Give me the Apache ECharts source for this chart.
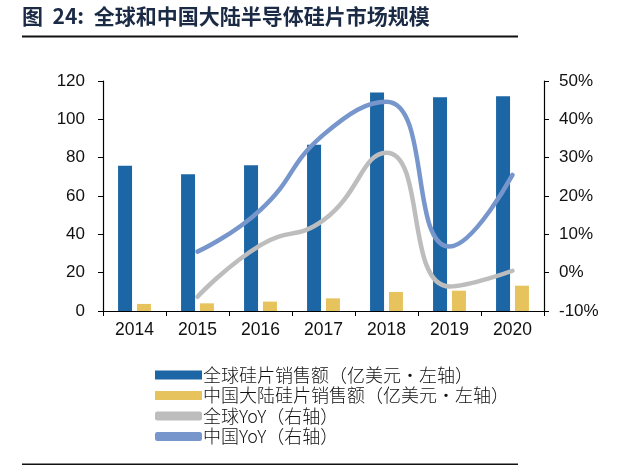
<!DOCTYPE html>
<html style="height: 100%;width:100%">
<head>
<meta charset="utf-8">
<script src="https://cdn.jsdelivr.net/npm/echarts@6/dist/echarts.min.js"></script>
</head>
<body style="height: 100%; width:100%; margin:0">
<div id="chart-panel" style="height: 469px;width: 640px"></div>
<script type="text/javascript">
var years = ['2014', '2015', '2016', '2017', '2018', '2019', '2020'];
var globalSales = [75.8, 71.3, 76.0, 86.8, 114.0, 111.5, 112.1]; // 亿美元
var chinaSales = [3.7, 4.0, 4.9, 6.6, 9.9, 10.6, 13.2];
var globalYoY = [null, -6.3, 7.2, 13.7, 31.3, -3.6, 0.5]; // %
var chinaYoY = [null, 5.5, 16.4, 36.0, 44.6, 6.8, 25.5];
var leftTicks = [0, 120, 20];   // min, max, interval
var rightTicks = [-10, 50, 10];

var dom = document.getElementById('chart-panel');
var myChart = echarts.init(dom);
var font = "'Liberation Sans', Arial, sans-serif";
var cjk = "'Noto Sans CJK SC', sans-serif";

var option = {
  backgroundColor: '#fff',
  animation: false,
  graphic: [
    {
      type: 'text', left: 22, top: 6,
      style: {
        text: '图  24:  全球和中国大陆半导体硅片市场规模',
        font: "bold 21px 'Noto Sans CJK SC', sans-serif",
        fill: '#1b2a45'
      }
    },
    { type: 'rect', shape: { x: 22, y: 35.5, width: 496, height: 2 }, style: { fill: '#111' } },
    { type: 'rect', shape: { x: 22, y: 463.5, width: 496, height: 1.5 }, style: { fill: '#111' } }
  ],
  grid: { left: 103, right: 96, top: 81, bottom: 158 },
  legend: {
    orient: 'vertical',
    left: 150,
    top: 361,
    itemWidth: 47,
    itemHeight: 9,
    itemGap: 2.5,
    textStyle: { fontFamily: cjk, fontSize: 18, fontWeight: 300, color: '#111', padding: [0, 0, 0, -4] },
    data: [
      { name: '全球硅片销售额（亿美元·左轴）', icon: 'rect' },
      { name: '中国大陆硅片销售额（亿美元·左轴）', icon: 'rect' },
      { name: '全球YoY（右轴）', icon: 'roundRect' },
      { name: '中国YoY（右轴）', icon: 'roundRect' }
    ]
  },
  xAxis: {
    type: 'category',
    data: years,
    axisLine: { lineStyle: { color: '#000', width: 1.2 } },
    axisTick: { show: true, length: 5, lineStyle: { color: '#000' } },
    axisLabel: { color: '#111', fontSize: 17.5, fontFamily: font, margin: 10 }
  },
  yAxis: [
    {
      type: 'value',
      min: leftTicks[0], max: leftTicks[1], interval: leftTicks[2],
      axisLine: { show: true, lineStyle: { color: '#000', width: 1.2 } },
      axisTick: { show: true, length: 5, lineStyle: { color: '#000' } },
      splitLine: { show: false },
      axisLabel: { color: '#111', fontSize: 17, fontFamily: font, margin: 18 }
    },
    {
      type: 'value',
      min: rightTicks[0], max: rightTicks[1], interval: rightTicks[2],
      position: 'right',
      axisLine: { show: true, lineStyle: { color: '#000', width: 1.2 } },
      axisTick: { show: true, length: 5, lineStyle: { color: '#000' } },
      splitLine: { show: false },
      axisLabel: { color: '#111', fontSize: 17, fontFamily: font, margin: 15, formatter: '{value}%' }
    }
  ],
  series: [
    {
      name: '全球硅片销售额（亿美元·左轴）',
      type: 'bar',
      data: globalSales,
      barWidth: 14,
      barGap: '35%',
      itemStyle: { color: '#1d66a6' }
    },
    {
      name: '中国大陆硅片销售额（亿美元·左轴）',
      type: 'bar',
      data: chinaSales,
      barWidth: 14,
      itemStyle: { color: '#e6c35c' }
    },
    {
      name: '全球YoY（右轴）',
      type: 'line',
      yAxisIndex: 1,
      data: globalYoY,
      smooth: 0.5,
      symbol: 'none',
      itemStyle: { color: '#bdbdbd' },
      lineStyle: { color: '#bdbdbd', width: 4.5, cap: 'round' },
      z: 3
    },
    {
      name: '中国YoY（右轴）',
      type: 'line',
      yAxisIndex: 1,
      data: chinaYoY,
      smooth: 0.5,
      symbol: 'none',
      itemStyle: { color: '#7797cc' },
      lineStyle: { color: '#7797cc', width: 4.5, cap: 'round' },
      z: 4
    }
  ]
};
myChart.setOption(option);
</script>
</body>
</html>
